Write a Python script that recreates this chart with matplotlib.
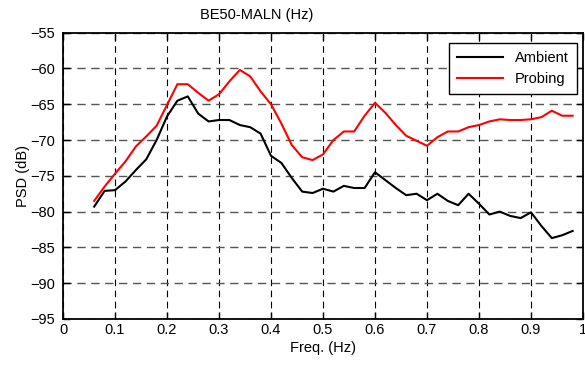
import matplotlib
matplotlib.use('Agg')
import matplotlib.pyplot as plt
import numpy as np

plt.rcParams['font.family'] = ['Liberation Sans', 'DejaVu Sans']

# frequency bins (Hz)
freq = np.round(np.arange(0.06, 0.981, 0.02), 2)

# PSD estimates (dB)
ambient = [-79.3, -77.1, -77.0, -75.8, -74.2, -72.7, -70.0, -66.7, -64.5, -63.9,
           -66.3, -67.4, -67.2, -67.2, -67.9, -68.2, -69.1, -72.2, -73.2, -75.3,
           -77.2, -77.4, -76.8, -77.2, -76.4, -76.7, -76.7, -74.5, -75.6, -76.7,
           -77.7, -77.5, -78.4, -77.5, -78.5, -79.1, -77.5, -78.9, -80.4, -80.0,
           -80.6, -80.9, -80.1, -82.0, -83.7, -83.3, -82.7]
probing = [-78.5, -76.5, -74.7, -73.0, -70.9, -69.5, -68.0, -65.1, -62.2, -62.2,
           -63.4, -64.5, -63.6, -61.8, -60.2, -61.1, -63.2, -65.0, -67.7, -70.7,
           -72.4, -72.8, -72.0, -70.0, -68.8, -68.8, -66.6, -64.8, -66.2, -67.9,
           -69.4, -70.1, -70.8, -69.6, -68.8, -68.8, -68.2, -67.9, -67.4, -67.1,
           -67.2, -67.2, -67.1, -66.8, -65.9, -66.6, -66.6]

xticks = np.round(np.arange(0, 1.01, 0.1), 1)
yticks = np.arange(-95, -54, 5)

fig = plt.figure(figsize=(5.85, 3.66), dpi=100)
ax = fig.add_axes([63 / 585, 1 - 319 / 366, 520 / 585, (319 - 32.7) / 366])

ax.plot(freq, ambient, color='k', lw=1.5, label='Ambient')
ax.plot(freq, probing, color='r', lw=1.5, label='Probing')

ax.set_xlim(0, 1)
ax.set_ylim(-95, -55)
ax.set_xticks(xticks)
ax.set_xticklabels(['0' if t == 0 else ('1' if t == 1 else f'{t:g}') for t in xticks])
ax.set_yticks(yticks)

# MATLAB-like dashed grid
ax.xaxis.grid(True, color='k', lw=0.8, linestyle=(0, (6, 4)))
ax.yaxis.grid(True, color='#555555', lw=1.0, linestyle=(0, (6, 4)))
ax.set_axisbelow(True)

ax.tick_params(direction='in', top=True, right=True, length=5, width=1,
               labelsize=10.5, colors='k', pad=3)
ax.tick_params(axis='y', pad=6)
for s in ax.spines.values():
    s.set_linewidth(1.3)

ax.set_xlabel('Freq. (Hz)', fontsize=10.5, labelpad=3)
ax.set_ylabel('PSD (dB)', fontsize=10.5, labelpad=0)
fig.text(257 / 585, 1 - 15 / 366, 'BE50-MALN (Hz)', ha='center', va='center',
         fontsize=10.5)

leg = ax.legend(loc='upper right', bbox_to_anchor=(0.9885, 0.965),
                borderaxespad=0, fontsize=10.5, fancybox=False,
                edgecolor='k', framealpha=1, handlelength=3.2,
                borderpad=0.55, labelspacing=0.5)
leg.get_frame().set_linewidth(1.0)

fig.savefig('out.png', dpi=100)
